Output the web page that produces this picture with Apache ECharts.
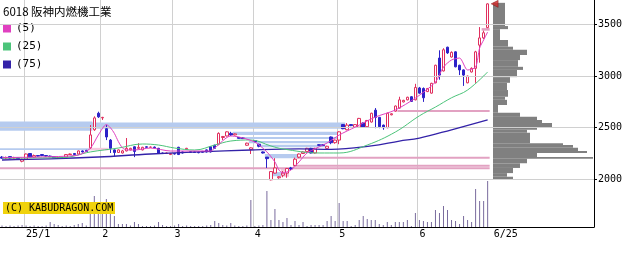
<!DOCTYPE html>
<html><head><meta charset="utf-8">
<script src="https://cdn.jsdelivr.net/npm/echarts@6/dist/echarts.min.js"></script>
<style>html,body{margin:0;padding:0;background:#fff}#c{width:639px;height:254px}</style>
</head><body><div id="c"></div>
<script>
// ---- data ----
const dates = [
'2024-12-23','2024-12-24','2024-12-25','2024-12-26','2024-12-27','2024-12-30',
'2025-01-06','2025-01-07','2025-01-08','2025-01-09','2025-01-10','2025-01-14','2025-01-15','2025-01-16','2025-01-17','2025-01-20','2025-01-21','2025-01-22','2025-01-23','2025-01-24','2025-01-27','2025-01-28','2025-01-29','2025-01-30','2025-01-31',
'2025-02-03','2025-02-04','2025-02-05','2025-02-06','2025-02-07','2025-02-10','2025-02-12','2025-02-13','2025-02-14','2025-02-17','2025-02-18','2025-02-19','2025-02-20','2025-02-21','2025-02-25','2025-02-26','2025-02-27','2025-02-28',
'2025-03-03','2025-03-04','2025-03-05','2025-03-06','2025-03-07','2025-03-10','2025-03-11','2025-03-12','2025-03-13','2025-03-14','2025-03-17','2025-03-18','2025-03-19','2025-03-21','2025-03-24','2025-03-25','2025-03-26','2025-03-27','2025-03-28','2025-03-31',
'2025-04-01','2025-04-02','2025-04-03','2025-04-04','2025-04-07','2025-04-08','2025-04-09','2025-04-10','2025-04-11','2025-04-14','2025-04-15','2025-04-16','2025-04-17','2025-04-18','2025-04-21','2025-04-22','2025-04-23','2025-04-24','2025-04-25','2025-04-28','2025-04-30',
'2025-05-01','2025-05-02','2025-05-07','2025-05-08','2025-05-09','2025-05-12','2025-05-13','2025-05-14','2025-05-15','2025-05-16','2025-05-19','2025-05-20','2025-05-21','2025-05-22','2025-05-23','2025-05-26','2025-05-27','2025-05-28','2025-05-29','2025-05-30',
'2025-06-02','2025-06-03','2025-06-04','2025-06-05','2025-06-06','2025-06-09','2025-06-10','2025-06-11','2025-06-12','2025-06-13','2025-06-16','2025-06-17','2025-06-18','2025-06-19','2025-06-20','2025-06-23','2025-06-24','2025-06-25'];

const openP = [2215,2205,2220,2205,2208,2175,2195,2250,2215,2230,2240,2230,2225,2220,2210,2210,2215,2240,2250,2245,2275,2280,2305,2480,2640,2595,2490,2380,2285,2260,2255,2275,2285,2315,2300,2285,2315,2310,2312,2300,2255,2250,2240,2250,2310,2265,2290,2268,2265,2262,2270,2285,2315,2330,2340,2405,2420,2445,2430,2405,2400,2330,2290,2375,2340,2265,2215,1995,2060,2015,2040,2060,2110,2135,2215,2250,2270,2300,2255,2335,2335,2300,2410,2355,2380,2530,2480,2530,2505,2505,2545,2510,2555,2670,2600,2525,2500,2625,2660,2690,2750,2770,2800,2770,2885,2880,2850,2835,2935,3175,3050,3280,3185,3235,3105,3060,2935,3040,3075,3300,3370,3470];
const closeP = [2205,2212,2205,2210,2200,2195,2245,2215,2230,2225,2230,2225,2220,2210,2212,2208,2240,2245,2240,2275,2265,2270,2430,2595,2605,2600,2410,2300,2260,2285,2275,2300,2300,2270,2310,2310,2310,2312,2305,2255,2250,2255,2250,2245,2240,2255,2300,2262,2260,2258,2262,2265,2265,2300,2445,2415,2460,2430,2440,2398,2395,2350,2305,2365,2320,2255,2200,2075,2110,2025,2060,2105,2100,2195,2245,2265,2300,2255,2300,2330,2328,2320,2355,2380,2460,2490,2525,2520,2530,2590,2505,2570,2640,2600,2510,2500,2640,2635,2710,2770,2765,2795,2755,2890,2835,2790,2880,2930,3105,3010,3255,3225,3230,3090,3060,3010,3000,3075,3235,3370,3420,3700];
const lowP = [2200,2198,2200,2200,2190,2165,2190,2210,2210,2220,2225,2218,2215,2205,2205,2200,2210,2235,2235,2240,2260,2265,2295,2470,2595,2575,2380,2255,2225,2255,2250,2270,2280,2215,2295,2280,2305,2305,2300,2250,2245,2245,2235,2240,2235,2250,2285,2258,2255,2252,2258,2260,2260,2295,2330,2380,2415,2420,2425,2395,2390,2325,2245,2360,2310,2250,2110,1990,2055,2005,2020,2015,2090,2130,2205,2245,2265,2250,2250,2325,2322,2295,2340,2345,2340,2485,2475,2515,2500,2500,2500,2505,2550,2495,2495,2480,2495,2620,2655,2685,2745,2765,2750,2765,2830,2750,2845,2830,2930,2965,3045,3215,3180,3085,3010,2905,2930,3035,2935,3130,3360,3465];
const highP = [2225,2220,2225,2218,2215,2200,2250,2255,2240,2235,2245,2235,2230,2225,2218,2215,2245,2250,2255,2280,2280,2285,2525,2610,2655,2605,2525,2390,2290,2290,2285,2400,2305,2320,2350,2315,2320,2318,2318,2305,2260,2260,2255,2255,2315,2270,2305,2272,2270,2268,2275,2290,2320,2335,2455,2420,2465,2460,2445,2410,2405,2355,2310,2380,2345,2270,2215,2080,2205,2030,2080,2110,2120,2210,2250,2270,2305,2305,2305,2340,2340,2325,2415,2385,2465,2535,2545,2535,2535,2595,2550,2575,2645,2690,2605,2530,2645,2640,2715,2800,2770,2800,2805,2925,2895,2890,2885,2935,3110,3250,3270,3285,3240,3240,3110,3065,3005,3085,3245,3475,3440,3705];
const volume = [15,10,15,10,15,20,15,10,15,10,10,15,50,30,20,10,15,10,20,30,40,15,240,310,140,140,280,140,110,30,30,30,15,50,30,10,10,10,15,50,20,10,10,15,30,10,15,10,10,10,10,15,20,60,40,20,15,40,15,10,10,15,270,10,15,20,360,70,180,70,50,90,20,60,20,50,10,20,20,20,20,60,110,60,240,60,60,10,20,70,110,80,70,70,30,20,50,20,50,50,50,70,10,140,70,60,50,50,170,140,210,170,70,60,30,110,70,50,380,260,260,460];

// moving averages: [index into dates, price]
const ma5Points = [[0,2211],[9,2216],[19,2235],[22,2300],[24,2429],[26,2530],[27,2500],[28,2445],[29,2365],[30,2305],[31,2285],[33,2284],[37,2303],[42,2274],[47,2274],[52,2274],[53,2303],[57,2420],[59,2410],[63,2361],[66,2265],[68,2168],[69,2090],[70,2061],[72,2090],[74,2168],[76,2255],[81,2352],[84,2429],[88,2506],[93,2603],[98,2671],[103,2787],[108,2942],[110,3088],[112,3156],[114,3175],[116,3059],[118,3088],[119,3272],[120,3350],[121,3427]];
const ma25Points = [[0,2206],[15,2210],[22,2265],[29,2303],[35,2342],[39,2332],[43,2303],[48,2284],[53,2332],[57,2371],[62,2381],[67,2323],[70,2294],[79,2255],[84,2255],[91,2332],[98,2458],[104,2615],[108,2700],[112,2790],[116,2865],[121,3040]];
const ma75Points = [[0,2187],[12,2197],[24,2216],[37,2245],[49,2265],[62,2284],[74,2294],[82,2290],[92,2323],[99,2370],[104,2400],[112,2480],[121,2575]];

// gap bands: [startIndex, endIndex, lowPrice, highPrice]
const blueBands = [[0,22,2470,2560],[0,85,2490,2550],[0,22,2285,2300],[58,83,2430,2460],[59,83,2390,2410],[62,82,2350,2370],[65,80,2310,2335],[66,73,2205,2245],[68,69,2030,2070]];
const pinkBoxes = [[22,26,2280,2305],[70,71,2025,2105]];
const pinkLines = [[0,121,2108,2116],[73,121,2122,2140],[74,121,2198,2218],[99,121,2660,2672],[120,121,3440,3465]];

// price-volume profile: bins [low, high] and relative volume
const profLow  = [1995,2025,2060,2110,2155,2200,2215,2255,2275,2305,2332,2350,2450,2480,2505,2545,2575,2605,2645,2720,2770,2800,2865,2935,2990,3060,3090,3155,3205,3255,3285,3350,3455,3485];
const profHigh = [2025,2060,2110,2155,2200,2215,2255,2275,2305,2332,2350,2450,2480,2505,2545,2575,2605,2645,2720,2770,2800,2865,2935,2990,3060,3090,3155,3205,3255,3285,3350,3455,3485,3710];
const profVol  = [20,14,20,27,34,100,44,94,85,80,70,37,34,44,59,49,44,27,5,14,12,15,14,17,24,30,25,27,34,20,15,7,15,12];

const yTicks = [2000,2500,3000,3500];
const tickDates = ['2025-01-06','2025-02-03','2025-03-03','2025-04-01','2025-05-01','2025-06-02','2025-06-25'];
const tickLabels = ['25/1','2','3','4','5','6','6/25'];
const lastPrice = 3700;

// ---- build ----
const N_SLOTS = 148;
const cats = dates.slice();
for (let k = dates.length; k < N_SLOTS; k++) cats.push('_' + k);
const gridIdx = tickDates.slice(0, 6).map(d => dates.indexOf(d));
const labelMap = {};
tickDates.forEach((d, k) => labelMap[d] = tickLabels[k]);
const toLine = pts => { const a = new Array(dates.length).fill(null); pts.forEach(([i, v]) => a[i] = v); return a; };
const PMIN = 1537.8, PMAX = 3737.4;
const MONO = 'DejaVu Sans Mono';

function bandSeries(name, data, fill, z, minH) {
  return {
    type: 'custom', name, xAxisIndex: 0, yAxisIndex: 0, z, silent: true, data,
    encode: { x: [0, 1], y: [2, 3] },
    renderItem(params, api) {
      const s = api.value(0), e = api.value(1), lo = api.value(2), hi = api.value(3);
      const w = api.size([1, 0])[0];
      const p1 = api.coord([s, hi]), p2 = api.coord([e, lo]);
      const x1 = Math.max(0, p1[0] - w / 2), x2 = p2[0] + w / 2;
      return { type: 'rect', shape: { x: x1, y: p1[1], width: x2 - x1, height: Math.max(minH, p2[1] - p1[1]) }, style: { fill } };
    }
  };
}

const chart = echarts.init(document.getElementById('c'));
chart.setOption({
  animation: false,
  backgroundColor: '#ffffff',
  title: { text: '6018 阪神内燃機工業', left: 3, top: 6, padding: 0,
    textStyle: { fontFamily: 'Noto Sans CJK JP', fontSize: 11.5, fontWeight: 'normal', color: '#000' } },
  legend: { orient: 'vertical', left: 3, top: 23, padding: 0, itemWidth: 8, itemHeight: 8, itemGap: 7, icon: 'rect',
    data: ['(5)', '(25)', '(75)'],
    textStyle: { fontFamily: MONO, fontSize: 11, color: '#000', lineHeight: 8 } },
  grid: [
    { left: 0, right: 45, top: 0, bottom: 27, outerBoundsMode: 'none' },
    { left: 0, right: 45, top: 180, bottom: 27, outerBoundsMode: 'none' },
    { left: 493, right: 45, top: 0, bottom: 27, outerBoundsMode: 'none' }
  ],
  xAxis: [
    { type: 'category', gridIndex: 0, data: cats, boundaryGap: true,
      axisLine: { show: true, lineStyle: { color: '#000', width: 1 } },
      axisTick: { show: false },
      axisLabel: { interval: (i, v) => labelMap[v] !== undefined,
        formatter: v => labelMap[v] === '6/25' ? '{s|6/25}' : (labelMap[v] || ''),
        align: 'left', margin: 2, fontFamily: MONO, fontSize: 10, color: '#000',
        rich: { s: { padding: [0, 0, 0, 6], fontFamily: MONO, fontSize: 10, color: '#000' } } },
      splitLine: { show: true, interval: (i) => gridIdx.includes(i), lineStyle: { color: '#d0d0d0', width: 1 } } },
    { type: 'category', gridIndex: 1, data: cats, boundaryGap: true, show: false },
    { type: 'value', gridIndex: 2, min: 0, max: 101, show: false }
  ],
  yAxis: [
    { type: 'value', gridIndex: 0, position: 'right', min: PMIN, max: PMAX,
      axisLine: { show: true, onZero: false, lineStyle: { color: '#000', width: 1 } },
      axisTick: { show: true, inside: false, length: 3, customValues: yTicks, lineStyle: { color: '#000' } },
      axisLabel: { customValues: yTicks, margin: 4, fontFamily: MONO, fontSize: 10, color: '#000', formatter: v => String(v) },
      splitLine: { show: false } },
    { type: 'value', gridIndex: 1, min: 0, max: 470, show: false },
    { type: 'value', gridIndex: 2, min: PMIN, max: PMAX, show: false }
  ],
  series: [
    { type: 'line', name: 'hgrid', xAxisIndex: 0, yAxisIndex: 0, data: [], z: 0, silent: true,
      markLine: { silent: true, symbol: 'none', label: { show: false }, animation: false,
        lineStyle: { color: '#d0d0d0', width: 1, type: 'solid' },
        emphasis: { disabled: true },
        data: yTicks.map(v => ({ yAxis: v })) } },
    bandSeries('blueBands', blueBands, '#b6cbef', 1, 1),
    bandSeries('pinkBoxes', pinkBoxes, '#f5c8de', 1, 1),
    bandSeries('pinkLines', pinkLines, '#e2a2c2', 1, 2),
    { type: 'custom', name: 'profile', xAxisIndex: 2, yAxisIndex: 2, z: 2, silent: true,
      data: profLow.map((lo, k) => [lo, profHigh[k], profVol[k]]),
      encode: { x: 2, y: [0, 1] },
      renderItem(params, api) {
        const lo = api.value(0), hi = api.value(1), v = api.value(2);
        const p1 = api.coord([0, hi]), p2 = api.coord([v, lo]);
        return { type: 'rect', shape: { x: p1[0], y: p1[1], width: p2[0] - p1[0], height: Math.max(1, p2[1] - p1[1]) }, style: { fill: '#808080' } };
      } },
    { type: 'line', name: '(75)', xAxisIndex: 0, yAxisIndex: 0, data: toLine(ma75Points), connectNulls: true, smooth: 0.4,
      showSymbol: false, symbol: 'none', z: 5, silent: true, color: '#3322a8', lineStyle: { color: '#3322a8', width: 1.3 } },
    { type: 'line', name: '(25)', xAxisIndex: 0, yAxisIndex: 0, data: toLine(ma25Points), connectNulls: true, smooth: 0.4,
      showSymbol: false, symbol: 'none', z: 5, silent: true, color: '#4cc47a', lineStyle: { color: '#4cc47a', width: 1 } },
    { type: 'line', name: '(5)', xAxisIndex: 0, yAxisIndex: 0, data: toLine(ma5Points), connectNulls: true, smooth: 0.25,
      showSymbol: false, symbol: 'none', z: 5, silent: true, color: '#e040c0', lineStyle: { color: '#e040c0', width: 1 } },
    { type: 'candlestick', name: 'price', xAxisIndex: 0, yAxisIndex: 0, z: 4, barWidth: 3, silent: true,
      data: dates.map((d, i) => [openP[i], closeP[i], lowP[i], highP[i]]),
      itemStyle: { color: '#ffffff', color0: '#2c22c8', borderColor: '#e0305e', borderColor0: '#2c22c8', borderWidth: 1 } },
    { type: 'bar', name: 'volume', xAxisIndex: 1, yAxisIndex: 1, barWidth: 1, silent: true,
      data: volume, itemStyle: { color: '#7a6c9e' } },
    { type: 'scatter', name: 'last', xAxisIndex: 0, yAxisIndex: 0, z: 6, silent: true,
      data: [[dates.length - 1, lastPrice]], symbol: 'triangle', symbolSize: 7, symbolRotate: 90, symbolOffset: [7, 0],
      itemStyle: { color: '#d02828', borderColor: '#700', borderWidth: 0.5 } }
  ],
  graphic: [
    { type: 'rect', left: 3, top: 202, z: 100, shape: { width: 112, height: 12 }, style: { fill: '#f0d20c' } },
    { type: 'text', left: 5, top: 203, z: 101, style: { text: '(C) KABUDRAGON.COM', fontFamily: MONO, fontSize: 10, fill: '#000' } }
  ]
});
</script></body></html>
